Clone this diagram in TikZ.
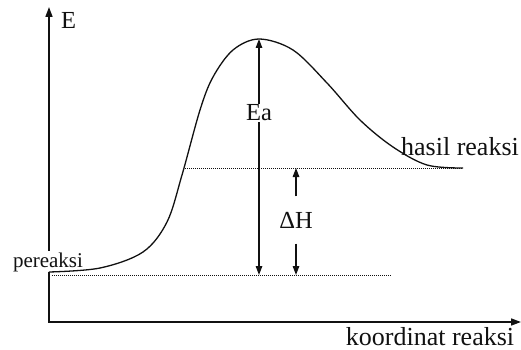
\documentclass[tikz,border=0pt]{standalone}
\usepackage{fontspec}
\setmainfont{Liberation Serif}
\usetikzlibrary{arrows.meta,positioning}
\definecolor{edInk}{HTML}{111111}
\tikzset{
  edaxis/.style={{Triangle[length=10pt,width=7pt]}-{Triangle[length=10pt,width=7pt]}, draw=edInk, line width=1.6pt},
  edcurve/.style={draw=edInk, line width=1.3pt},
  edlevel/.style={draw=edInk, dash pattern=on 1pt off 1pt, line width=0.9pt},
  eddim/.style={-{Triangle[length=9pt,width=6.5pt]}, draw=edInk, line width=1.3pt},
  eddimboth/.style={{Triangle[length=9pt,width=6.5pt]}-{Triangle[length=9pt,width=6.5pt]}, draw=edInk, line width=1.3pt},
  edlabel/.style={font=\fontsize{21}{25}\selectfont, text=edInk, inner sep=1pt},
  edsym/.style={font=\fontsize{24.5}{28}\selectfont, text=edInk, inner sep=1pt},
  edtitle/.style={font=\fontsize{26}{30}\selectfont, text=edInk, inner sep=1pt}
}
\begin{document}
\begin{tikzpicture}[x=1pt,y=-1pt]
\useasboundingbox (0,0) rectangle (521,350);

% Titik acuan
\coordinate (ytop) at (49,7);
\coordinate (xend) at (521,322);
\coordinate (peak) at (259,39);
\coordinate (rlvlA) at (52,275);
\coordinate (rlvlB) at (392,275);
\coordinate (plvlA) at (185,168);
\coordinate (plvlB) at (463,168);
\coordinate (eabot) at (259,275);
\coordinate (dhtop) at (296,168);
\coordinate (dhbot) at (296,275);

% Sumbu
\draw[edaxis] (ytop) |- (xend);
\node[edsym, anchor=west] (E) at (60,20) {E};
\node[edtitle, anchor=base] (koord) at (430,345) {koordinat reaksi};

% Label tingkat energi
\node[edlabel, fill=white, anchor=base] (pereaksi) at (48,267) {pereaksi};
\node[edtitle, anchor=base] (hasil) at (460,155) {hasil reaksi};

% Tingkat energi
\draw[edlevel] (rlvlA) -- (rlvlB);
\draw[edlevel] (plvlA) -- (plvlB);

% Kurva reaksi
\draw[edcurve] plot[smooth, tension=0.55] coordinates {
  (49,272) (100,268) (143,252) (167,222) (182,175) (200,110) (213,77)
  (233,50) (259,39) (293,50) (327,83) (360,120) (393,147) (427,165) (463,168)};

% Energi aktivasi
\draw[eddimboth] (peak) -- (eabot);
\node[edsym, fill=white] (Ea) at (259,113) {Ea};

% Perubahan entalpi
\node[edsym, minimum height=47pt, inner sep=0pt] (dH) at (296,220) {ΔH};
\draw[eddim] (dH.north) -- (dhtop);
\draw[eddim] (dH.south) -- (dhbot);

\end{tikzpicture}
\end{document}
